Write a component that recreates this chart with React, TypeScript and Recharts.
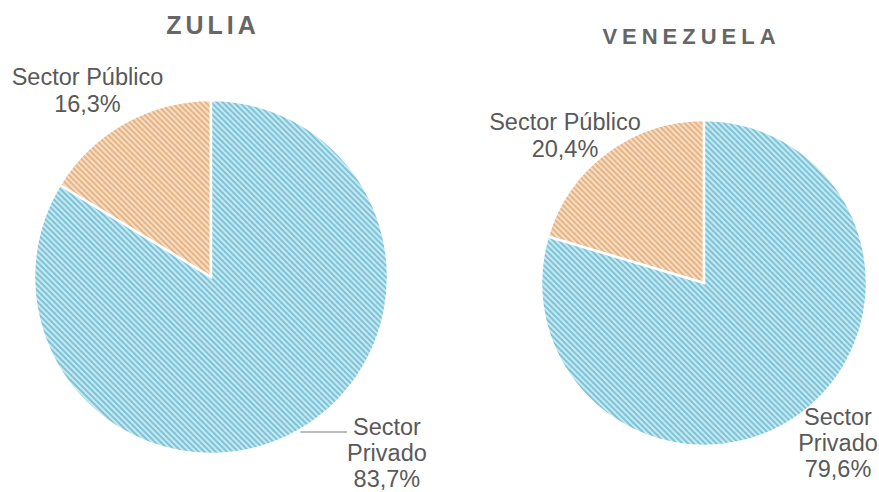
import React from 'react';
import { PieChart, Pie, Cell } from 'recharts';

const sectors = ['Sector Público', 'Sector Privado'];
const zuliaValues = [16.3, 83.7];
const venezuelaValues = [20.4, 79.6];
const zuliaLabels = ['16,3%', '83,7%'];
const venezuelaLabels = ['20,4%', '79,6%'];
const titles = ['ZULIA', 'VENEZUELA'];

const zuliaData = sectors.map((name, i) => ({ name, value: zuliaValues[i], pct: zuliaLabels[i] }));
const venezuelaData = sectors.map((name, i) => ({ name, value: venezuelaValues[i], pct: venezuelaLabels[i] }));

const fills = ['url(#hatchOrange)', 'url(#hatchBlue)'];
const textColor = '#595959';
const font = '"Liberation Sans", Arial, sans-serif';
const FS = 23.5;
const LH = 26;

type LabelCfg = {
  pub: { dx: number; dy: number };
  priv: { dx: number; dy: number };
  leader: boolean;
};

const makeLabel = (cfg: LabelCfg) => (props: any) => {
  const { cx, cy, outerRadius, payload, index } = props;
  const r = outerRadius;
  if (index === 0) {
    const x = cx + cfg.pub.dx * r;
    const y = cy + cfg.pub.dy * r;
    return (
      <text x={x} y={y} textAnchor="middle" fill={textColor} fontSize={FS} fontFamily={font}>
        <tspan x={x} dy={0}>Sector Público</tspan>
        <tspan x={x} dy={LH + 1}>{payload.pct}</tspan>
      </text>
    );
  }
  const x = cx + cfg.priv.dx * r;
  const y = cy + cfg.priv.dy * r;
  let leader = null;
  if (cfg.leader) {
    const ly = y - 3;
    const ddy = ly - cy;
    const ex = cx + Math.sqrt(Math.max(r * r - ddy * ddy, 0));
    leader = <line x1={ex + 4} y1={ly} x2={x - 40} y2={ly} stroke="#a6a6a6" strokeWidth={1.5} />;
  }
  return (
    <g>
      {leader}
      <text x={x} y={y} textAnchor="middle" fill={textColor} fontSize={FS} fontFamily={font}>
        <tspan x={x} dy={0}>Sector</tspan>
        <tspan x={x} dy={LH}>Privado</tspan>
        <tspan x={x} dy={LH}>{payload.pct}</tspan>
      </text>
    </g>
  );
};

const zuliaLabel = makeLabel({ pub: { dx: -0.698, dy: -1.085 }, priv: { dx: 0.994, dy: 0.893 }, leader: true });
const venLabel = makeLabel({ pub: { dx: -0.853, dy: -0.94 }, priv: { dx: 0.822, dy: 0.871 }, leader: false });

export default function App() {
  return (
    <div style={{ position: 'relative', width: 879, height: 492, background: '#fff', overflow: 'hidden' }}>
      <style>{`html,body{margin:0;padding:0;}`}</style>
      <svg width={0} height={0} style={{ position: 'absolute' }}>
        <defs>
          <pattern id="hatchBlue" patternUnits="userSpaceOnUse" width={4} height={4} patternTransform="rotate(-45)">
            <rect width={4} height={4} fill="#c6e8f0" />
            <rect width={2} height={4} fill="#7ec4d8" />
          </pattern>
          <pattern id="hatchOrange" patternUnits="userSpaceOnUse" width={4} height={4} patternTransform="rotate(-45)">
            <rect width={4} height={4} fill="#f6dcc2" />
            <rect width={2} height={4} fill="#e5b585" />
          </pattern>
        </defs>
      </svg>
      <div style={{ position: 'absolute', left: 111, width: 200, top: 10.5, textAlign: 'center', fontFamily: font, fontWeight: 'bold', fontSize: 25, letterSpacing: 4, color: '#666666', paddingLeft: 4, boxSizing: 'border-box', lineHeight: 'normal' }}>
        {titles[0]}
      </div>
      <div style={{ position: 'absolute', left: 589, width: 200, top: 23.5, textAlign: 'center', fontFamily: font, fontWeight: 'bold', fontSize: 22, letterSpacing: 5, color: '#666666', paddingLeft: 5, boxSizing: 'border-box', lineHeight: 'normal' }}>
        {titles[1]}
      </div>
      <div style={{ position: 'absolute', left: 0, top: 0 }}>
        <PieChart width={879} height={492} margin={{ top: 0, right: 0, bottom: 0, left: 0 }}>
          <Pie
            data={zuliaData}
            dataKey="value"
            cx={211}
            cy={277}
            outerRadius={177}
            startAngle={90}
            endAngle={450}
            stroke="#ffffff"
            strokeWidth={2.5}
            label={zuliaLabel}
            labelLine={false}
            isAnimationActive={false}
          >
            {zuliaData.map((d, i) => (
              <Cell key={d.name} fill={fills[i]} />
            ))}
          </Pie>
          <Pie
            data={venezuelaData}
            dataKey="value"
            cx={704}
            cy={283}
            outerRadius={163}
            startAngle={90}
            endAngle={450}
            stroke="#ffffff"
            strokeWidth={2.5}
            label={venLabel}
            labelLine={false}
            isAnimationActive={false}
          >
            {venezuelaData.map((d, i) => (
              <Cell key={d.name} fill={fills[i]} />
            ))}
          </Pie>
        </PieChart>
      </div>
    </div>
  );
}
